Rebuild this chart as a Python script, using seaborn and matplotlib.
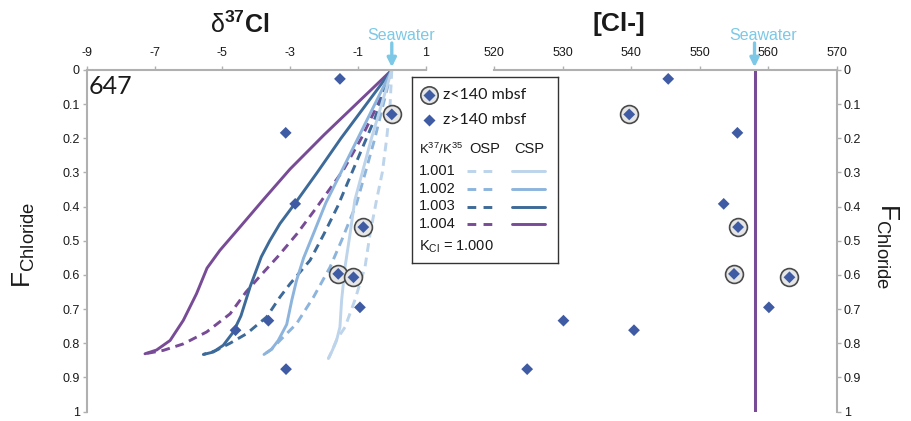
import numpy as np
import pandas as pd
import matplotlib
matplotlib.use("Agg")
import matplotlib.pyplot as plt
import seaborn as sns
from matplotlib.lines import Line2D

# ---------------------------------------------------------------- data
# pore-water samples, Site 647
f_chloride = [0.026, 0.13, 0.184, 0.392, 0.46, 0.597, 0.607, 0.695, 0.734, 0.762, 0.876]
d37cl = [-1.53, 0.0, -3.13, -2.85, -0.84, -1.58, -1.13, -0.94, -3.64, -4.61, -3.12]
cl_conc = [545.4, 539.7, 555.5, 553.5, 555.6, 555.0, 563.1, 560.1, 530.1, 540.4, 524.8]
shallow = [False, True, False, False, True, True, True, False, False, False, False]

seawater_d37 = 0.0
seawater_cl = 558.0

# Rayleigh-type fractionation models (OSP = open system, CSP = closed system)
k1004_csp_x = [0, -1.0, -2.0, -3.0, -3.8, -4.48, -5.07, -5.45, -5.76, -6.15, -6.54, -6.94, -7.28]
k1004_csp_f = [0, 0.095, 0.19, 0.29, 0.381, 0.46, 0.528, 0.58, 0.655, 0.733, 0.792, 0.82, 0.831]
k1004_osp_x = [0, -0.4, -0.9, -1.43, -2.2, -2.8, -3.35, -3.9, -4.3, -4.77, -5.46, -6.15, -6.74, -7.28]
k1004_osp_f = [0, 0.098, 0.2, 0.293, 0.40, 0.48, 0.545, 0.605, 0.65, 0.714, 0.767, 0.802, 0.821, 0.831]

k1003_csp_x = [0, -0.75, -1.5, -2.2, -2.85, -3.3, -3.6, -3.85, -4.18, -4.45, -4.68, -4.97, -5.27, -5.56]
k1003_csp_f = [0, 0.1, 0.2, 0.3, 0.39, 0.45, 0.5, 0.547, 0.635, 0.72, 0.768, 0.806, 0.826, 0.833]
k1003_osp_x = [0, -0.5, -0.94, -1.6, -2.0, -2.41, -3.0, -3.3, -3.69, -4.28, -4.77, -5.2, -5.56]
k1003_osp_f = [0, 0.142, 0.245, 0.40, 0.48, 0.557, 0.626, 0.665, 0.723, 0.772, 0.80, 0.822, 0.833]

k1002_csp_x = [0, -0.5, -1.0, -1.5, -1.95, -2.31, -2.6, -2.81, -2.95, -3.10, -3.35, -3.55, -3.77]
k1002_csp_f = [0, 0.1, 0.2, 0.3, 0.39, 0.479, 0.55, 0.616, 0.674, 0.745, 0.792, 0.818, 0.833]
k1002_osp_x = [0, -0.25, -0.5, -0.78, -1.04, -1.48, -1.82, -2.31, -2.81, -3.30, -3.55, -3.77]
k1002_osp_f = [0, 0.1, 0.2, 0.3, 0.391, 0.499, 0.577, 0.665, 0.743, 0.792, 0.818, 0.833]

k1001_csp_x = [0, -0.3, -0.6, -0.87, -1.09, -1.23, -1.38, -1.48, -1.53, -1.63, -1.75, -1.87]
k1001_csp_f = [0, 0.1, 0.2, 0.3, 0.381, 0.479, 0.577, 0.674, 0.753, 0.792, 0.82, 0.845]
k1001_osp_x = [0, -0.05, -0.15, -0.28, -0.45, -0.64, -0.79, -1.09, -1.38, -1.63, -1.75, -1.87]
k1001_osp_f = [0, 0.1, 0.2, 0.3, 0.381, 0.479, 0.577, 0.674, 0.753, 0.79, 0.82, 0.845]

k_labels = ["1.001", "1.002", "1.003", "1.004"]
x_ticks_d37 = [-9, -7, -5, -3, -1, 1]
x_ticks_cl = [520, 530, 540, 550, 560, 570]
y_ticks = [0, 0.1, 0.2, 0.3, 0.4, 0.5, 0.6, 0.7, 0.8, 0.9, 1]
y_ticklabels = ["0", "0.1", "0.2", "0.3", "0.4", "0.5", "0.6", "0.7", "0.8", "0.9", "1"]

# ---------------------------------------------------------------- style
sns.set_style("white")
plt.rcParams["font.family"] = ["Liberation Sans", "DejaVu Sans"]
plt.rcParams["mathtext.fontset"] = "custom"
plt.rcParams["mathtext.rm"] = "Liberation Sans"
plt.rcParams["mathtext.it"] = "Liberation Sans:italic"
plt.rcParams["mathtext.bf"] = "Liberation Sans:bold"

k_colors = {"1.001": "#bdd4eb", "1.002": "#8cb4dc", "1.003": "#3d6a98", "1.004": "#784b96"}
dash_styles = {"OSP": (3, 2), "CSP": ""}
diamond_color = "#3f5ba3"
sea_color = "#7cc8e6"
spine_color = "#b0b0b0"
text_color = "#1a1a1a"
label_font = ["Lato", "DejaVu Sans"]
tick_size = 9

samples = pd.DataFrame({"F": f_chloride, "d37": d37cl, "Cl": cl_conc, "shallow": shallow})

curve_sets = {
    ("1.004", "CSP"): (k1004_csp_x, k1004_csp_f),
    ("1.004", "OSP"): (k1004_osp_x, k1004_osp_f),
    ("1.003", "CSP"): (k1003_csp_x, k1003_csp_f),
    ("1.003", "OSP"): (k1003_osp_x, k1003_osp_f),
    ("1.002", "CSP"): (k1002_csp_x, k1002_csp_f),
    ("1.002", "OSP"): (k1002_osp_x, k1002_osp_f),
    ("1.001", "CSP"): (k1001_csp_x, k1001_csp_f),
    ("1.001", "OSP"): (k1001_osp_x, k1001_osp_f),
}
models = pd.concat(
    [pd.DataFrame({"d37": xs, "F": fs, "K": k, "process": p}) for (k, p), (xs, fs) in curve_sets.items()],
    ignore_index=True,
)

# ---------------------------------------------------------------- figure
W, H = 911, 421
fig = plt.figure(figsize=(W / 100, H / 100), dpi=100)
ax1 = fig.add_axes([86.7 / W, 1 - 411.5 / H, (425.7 - 86.7) / W, (411.5 - 70) / H])
ax2 = fig.add_axes([494.3 / W, 1 - 411.5 / H, (836.7 - 494.3) / W, (411.5 - 70) / H])

# model curves
sns.lineplot(data=models, x="d37", y="F", hue="K", style="process",
             palette=k_colors, dashes=dash_styles, sort=False, estimator=None,
             lw=2.1, legend=False, ax=ax1, zorder=2)

# sample points: ringed ones are shallower than 140 mbsf
for ax, col in ((ax1, "d37"), (ax2, "Cl")):
    ring = samples[samples["shallow"]]
    sns.scatterplot(data=ring, x=col, y="F", marker="o", s=165, color="#e6e6e6",
                    edgecolor="#4a4a4a", linewidth=1.2, ax=ax, zorder=3, legend=False)
    sns.scatterplot(data=samples, x=col, y="F", marker="D", s=36, color=diamond_color,
                    edgecolor="none", ax=ax, zorder=4, legend=False)

# seawater chloride concentration
ax2.axvline(seawater_cl, ymin=0, ymax=1, color=k_colors["1.004"], lw=2.2, zorder=2)

# axes styling
for ax, xticks, (xmin, xmax) in ((ax1, x_ticks_d37, (-9, 1)), (ax2, x_ticks_cl, (520, 570))):
    ax.set_xlim(xmin, xmax)
    ax.set_ylim(1, 0)
    ax.set_xticks(xticks)
    ax.set_xticklabels([str(t) for t in xticks])
    ax.set_yticks(y_ticks)
    ax.set_yticklabels(y_ticklabels)
    ax.set_xlabel("")
    ax.set_ylabel("")
    ax.xaxis.tick_top()
    for s in ax.spines.values():
        s.set_visible(False)
    ax.spines["top"].set_visible(True)
    ax.spines["top"].set_color(spine_color)
    ax.spines["top"].set_linewidth(1.5)
    ax.tick_params(axis="x", which="both", top=True, bottom=False, direction="out",
                   length=3, width=1, color=spine_color, labelsize=tick_size,
                   labelcolor=text_color, pad=5)
    ax.patch.set_alpha(0)

ax1.spines["left"].set_visible(True)
ax1.spines["left"].set_color(spine_color)
ax1.spines["left"].set_linewidth(1.5)
ax1.tick_params(axis="y", left=True, right=False, direction="out", length=3, width=1,
                color=spine_color, labelsize=tick_size, labelcolor=text_color, pad=2)

ax2.yaxis.tick_right()
ax2.spines["right"].set_visible(True)
ax2.spines["right"].set_color(spine_color)
ax2.spines["right"].set_linewidth(1.5)
ax2.tick_params(axis="y", left=False, right=True, direction="out", length=3, width=1,
                color=spine_color, labelsize=tick_size, labelcolor=text_color, pad=2)

# seawater markers
for ax, xv in ((ax1, seawater_d37), (ax2, seawater_cl)):
    ax.annotate("", xy=(xv, 0), xycoords="data", xytext=(0, 27), textcoords="offset pixels",
                arrowprops=dict(arrowstyle="-|>", color=sea_color, lw=2.4,
                                mutation_scale=13, shrinkA=0, shrinkB=2),
                annotation_clip=False)
    ax.annotate("Seawater", xy=(xv, 0), xycoords="data", xytext=(9, 34),
                textcoords="offset pixels", ha="center", va="center",
                color=sea_color, fontsize=11.5, annotation_clip=False)

# panel titles, site number and axis labels
fig.text(240 / W, 1 - 25 / H, r"$\mathrm{\delta}^{\mathbf{37}}\mathbf{Cl}$", ha="center",
         va="center", fontsize=18, color=text_color)
fig.text(619 / W, 1 - 24 / H, "[Cl-]", ha="center", va="center", fontsize=19,
         fontweight="bold", color=text_color)
ax1.text(0.005, 0.953, "647", transform=ax1.transAxes, ha="left", va="center",
         fontsize=18, family=label_font, color=text_color)
fig.text(24 / W, 1 - 245 / H, r"$\mathrm{F_{Chloride}}$", rotation=90, ha="center",
         va="center", fontsize=19, color=text_color)
fig.text(887 / W, 1 - 246 / H, r"$\mathrm{F_{Chloride}}$", rotation=270, ha="center",
         va="center", fontsize=19, color=text_color)

# key box, laid out in its own pixel frame
lx0, lx1, ly0, ly1 = 412, 558, 77, 263
lg = fig.add_axes([lx0 / W, 1 - ly1 / H, (lx1 - lx0) / W, (ly1 - ly0) / H], zorder=5)
lg.set_xlim(lx0, lx1)
lg.set_ylim(ly1, ly0)
lg.set_xticks([])
lg.set_yticks([])
lg.set_facecolor("white")
for s in lg.spines.values():
    s.set_color("#333333")
    s.set_linewidth(1.0)

lg.add_line(Line2D([429], [95], marker="o", ms=12.5, mfc="#e6e6e6", mec="#4a4a4a", mew=1.2))
lg.add_line(Line2D([429], [95], marker="D", ms=6, mfc=diamond_color, mec="none"))
lg.add_line(Line2D([429], [120], marker="D", ms=6, mfc=diamond_color, mec="none"))
lg.text(443, 95, "z<140 mbsf", va="center", ha="left", fontsize=11.5, family=label_font, color=text_color)
lg.text(443, 120, "z>140 mbsf", va="center", ha="left", fontsize=11.5, family=label_font, color=text_color)
lg.text(419, 149, r"K$^{37}$/K$^{35}$", va="center", ha="left", fontsize=9.5, color=text_color)
lg.text(484.5, 149, "OSP", va="center", ha="center", fontsize=10.5, color=text_color)
lg.text(529.5, 149, "CSP", va="center", ha="center", fontsize=10.5, color=text_color)
for k, yrow in zip(k_labels, (171, 189, 206.5, 224)):
    lg.text(419, yrow, k, va="center", ha="left", fontsize=10.5, color=text_color)
    lg.add_line(Line2D([467, 499], [yrow, yrow], color=k_colors[k], lw=2.1, dashes=(3, 2.5)))
    lg.add_line(Line2D([512, 545], [yrow, yrow], color=k_colors[k], lw=2.1))
lg.text(419, 246.5, r"K$_{\mathrm{Cl}}$ = 1.000", va="center", ha="left", fontsize=10.5, color=text_color)

fig.savefig("out.png", dpi=100)
